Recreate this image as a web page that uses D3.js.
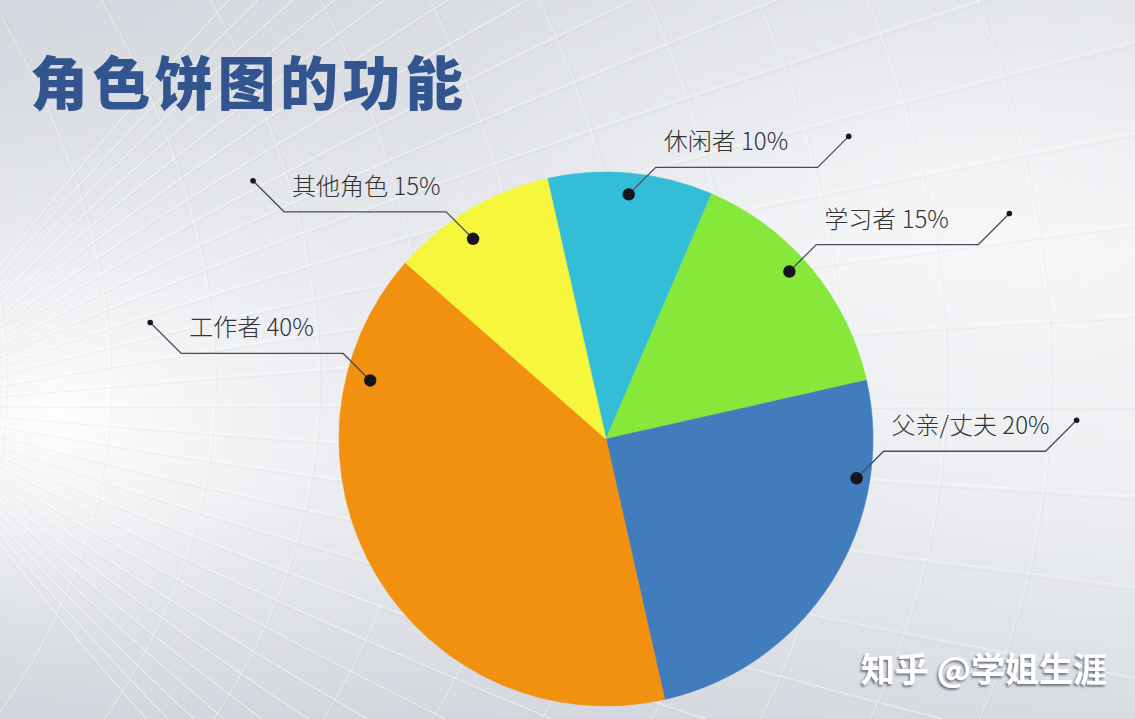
<!DOCTYPE html>
<html>
<head>
<meta charset="utf-8">
<script src="https://cdn.jsdelivr.net/npm/d3@7"></script>
<style>
  html,body{margin:0;padding:0;background:#e6e8ec;}
  svg{display:block;}
</style>
</head>
<body>
<svg id="chart" width="1135" height="719"></svg>
<script>
// ---- data ----
const categories = ["休闲者", "学习者", "父亲/丈夫", "工作者", "其他角色"];
const sliceValues = [10, 15, 25, 40, 10];          // slice sizes as drawn
const labelPercents = ["10%", "15%", "20%", "40%", "15%"]; // percentages as printed on labels
const sliceColors = ["#33bdd7", "#86e83b", "#417dbd", "#f2900f", "#f6f63c"];
const titleText = "角色饼图的功能";
const watermarkText = "知乎 @学姐生涯";

// ---- layout config ----
const W = 1135, H = 719;
const cx = 606, cy = 439, R = 267;
const startDeg = -12.7;
const anchorFrac = [0.5, 0.45, 0.24, 0.81, 0.42];   // where the dot sits within each slice
const anchorRad  = [0.92, 0.93, 0.95, 0.91, 0.90];  // radial position of the dot

const svg = d3.select("#chart");
const defs = svg.append("defs");

// background gradients
const lg = defs.append("linearGradient").attr("id","bg").attr("x1",0).attr("y1",0).attr("x2",1).attr("y2",0);
lg.append("stop").attr("offset","0%").attr("stop-color","#d9dce2");
lg.append("stop").attr("offset","45%").attr("stop-color","#e4e6ea");
lg.append("stop").attr("offset","100%").attr("stop-color","#eceef1");
svg.append("rect").attr("width",W).attr("height",H).attr("fill","url(#bg)");

const rg = defs.append("radialGradient").attr("id","glow").attr("cx",0.05).attr("cy",0.58).attr("r",0.55);
rg.append("stop").attr("offset","0%").attr("stop-color","#ffffff").attr("stop-opacity",0.95);
rg.append("stop").attr("offset","50%").attr("stop-color","#ffffff").attr("stop-opacity",0.35);
rg.append("stop").attr("offset","100%").attr("stop-color","#ffffff").attr("stop-opacity",0);
svg.append("rect").attr("width",W).attr("height",H).attr("fill","url(#glow)");

const rg2 = defs.append("radialGradient").attr("id","glow2").attr("cx",0.85).attr("cy",0.25).attr("r",0.5);
rg2.append("stop").attr("offset","0%").attr("stop-color","#ffffff").attr("stop-opacity",0.7);
rg2.append("stop").attr("offset","100%").attr("stop-color","#ffffff").attr("stop-opacity",0);
svg.append("rect").attr("width",W).attr("height",H).attr("fill","url(#glow2)");

const shade = defs.append("linearGradient").attr("id","shade").attr("x1",0).attr("y1",0).attr("x2",0).attr("y2",1);
shade.append("stop").attr("offset","0%").attr("stop-color","#c9cdd5").attr("stop-opacity",0.35);
shade.append("stop").attr("offset","35%").attr("stop-color","#c9cdd5").attr("stop-opacity",0);
shade.append("stop").attr("offset","70%").attr("stop-color","#c9cdd5").attr("stop-opacity",0);
shade.append("stop").attr("offset","100%").attr("stop-color","#bfc4cd").attr("stop-opacity",0.45);
svg.append("rect").attr("width",W).attr("height",H).attr("fill","url(#shade)");

// decorative tunnel lines
const deco = svg.append("g").attr("fill","none");
d3.range(-14, 15).forEach(k => {
  const y0 = 405 + k * 9;
  const y1 = 405 + k * 38;
  const y2 = 405 + k * 95;
  deco.append("path")
    .attr("d", `M-10,${y0} Q300,${y1} 1200,${y2}`)
    .attr("stroke", "#ffffff").attr("stroke-opacity", 0.5).attr("stroke-width", 1.1);
  deco.append("path")
    .attr("d", `M-10,${y0+2} Q300,${y1+3} 1200,${y2+4}`)
    .attr("stroke", "#9aa0aa").attr("stroke-opacity", 0.1).attr("stroke-width", 1);
});
d3.range(0, 12).forEach(k => {
  const rr = 180 + k * 110;
  deco.append("path")
    .attr("d", `M${-420 + rr},-20 Q${-120 + rr*0.9},400 ${-420 + rr},740`)
    .attr("stroke", "#ffffff").attr("stroke-opacity", 0.35).attr("stroke-width", 1.1);
  deco.append("path")
    .attr("d", `M${-418 + rr},-20 Q${-118 + rr*0.9},400 ${-418 + rr},740`)
    .attr("stroke", "#8e95a0").attr("stroke-opacity", 0.07).attr("stroke-width", 1);
});

// title
svg.append("text")
  .attr("x", 30).attr("y", 105)
  .attr("font-family", "'Noto Sans CJK SC', sans-serif")
  .attr("font-weight", 900)
  .attr("font-size", 58)
  .attr("letter-spacing", 4.5)
  .attr("fill", "#33558f")
  .text(titleText);

// pie
const data = categories.map((c, i) => ({ name: c, value: sliceValues[i], pct: labelPercents[i], color: sliceColors[i], i }));
const toRad = d => d * Math.PI / 180;
const pie = d3.pie().value(d => d.value).sort(null)
  .startAngle(toRad(startDeg)).endAngle(toRad(startDeg) + 2 * Math.PI);
const arcs = pie(data);
const arc = d3.arc().innerRadius(0).outerRadius(R);

const g = svg.append("g").attr("transform", `translate(${cx},${cy})`);
g.selectAll("path.slice").data(arcs).enter().append("path")
  .attr("class", "slice")
  .attr("d", arc)
  .attr("fill", d => d.data.color)
  .attr("stroke", d => d.data.color)
  .attr("stroke-width", 0.6);

// leaders and labels
const lab = svg.append("g");
arcs.forEach(a => {
  const i = a.data.i;
  const ang = a.startAngle + (a.endAngle - a.startAngle) * anchorFrac[i];
  const r = R * anchorRad[i];
  const px = cx + r * Math.sin(ang), py = cy - r * Math.cos(ang);
  const dir = Math.sin(ang) >= 0 ? 1 : -1;
  const ex = px + dir * 27, ey = py - 27;
  const hx = ex + dir * 162;
  const sx = hx + dir * 31, sy = ey - 31;
  lab.append("path")
    .attr("d", `M${px},${py} L${ex},${ey} L${hx},${ey} L${sx},${sy}`)
    .attr("fill", "none").attr("stroke", "#4a4d55").attr("stroke-width", 1.3);
  lab.append("circle").attr("cx", px).attr("cy", py).attr("r", 6.2).attr("fill", "#16141f");
  lab.append("circle").attr("cx", sx).attr("cy", sy).attr("r", 2.8).attr("fill", "#16141f");
  lab.append("text")
    .attr("x", Math.min(ex, hx) + 8).attr("y", ey - 17)
    .attr("font-family", "'Noto Sans CJK SC', sans-serif")
    .attr("font-weight", 300)
    .attr("font-size", 24)
    .attr("fill", "#333333")
    .text(a.data.name + " " + a.data.pct);
});

// watermark
defs.append("filter").attr("id","ws").attr("x","-10%").attr("y","-20%").attr("width","120%").attr("height","150%")
  .append("feDropShadow").attr("dx",-1.5).attr("dy",2).attr("stdDeviation",0.8).attr("flood-color","#555a63").attr("flood-opacity",0.8);
svg.append("text")
  .attr("x", 861).attr("y", 682)
  .attr("font-family", "'Noto Sans CJK SC', sans-serif")
  .attr("font-weight", 700)
  .attr("font-size", 34)
  .attr("fill", "#ffffff")
  .attr("filter", "url(#ws)")
  .text(watermarkText);
</script>
</body>
</html>
